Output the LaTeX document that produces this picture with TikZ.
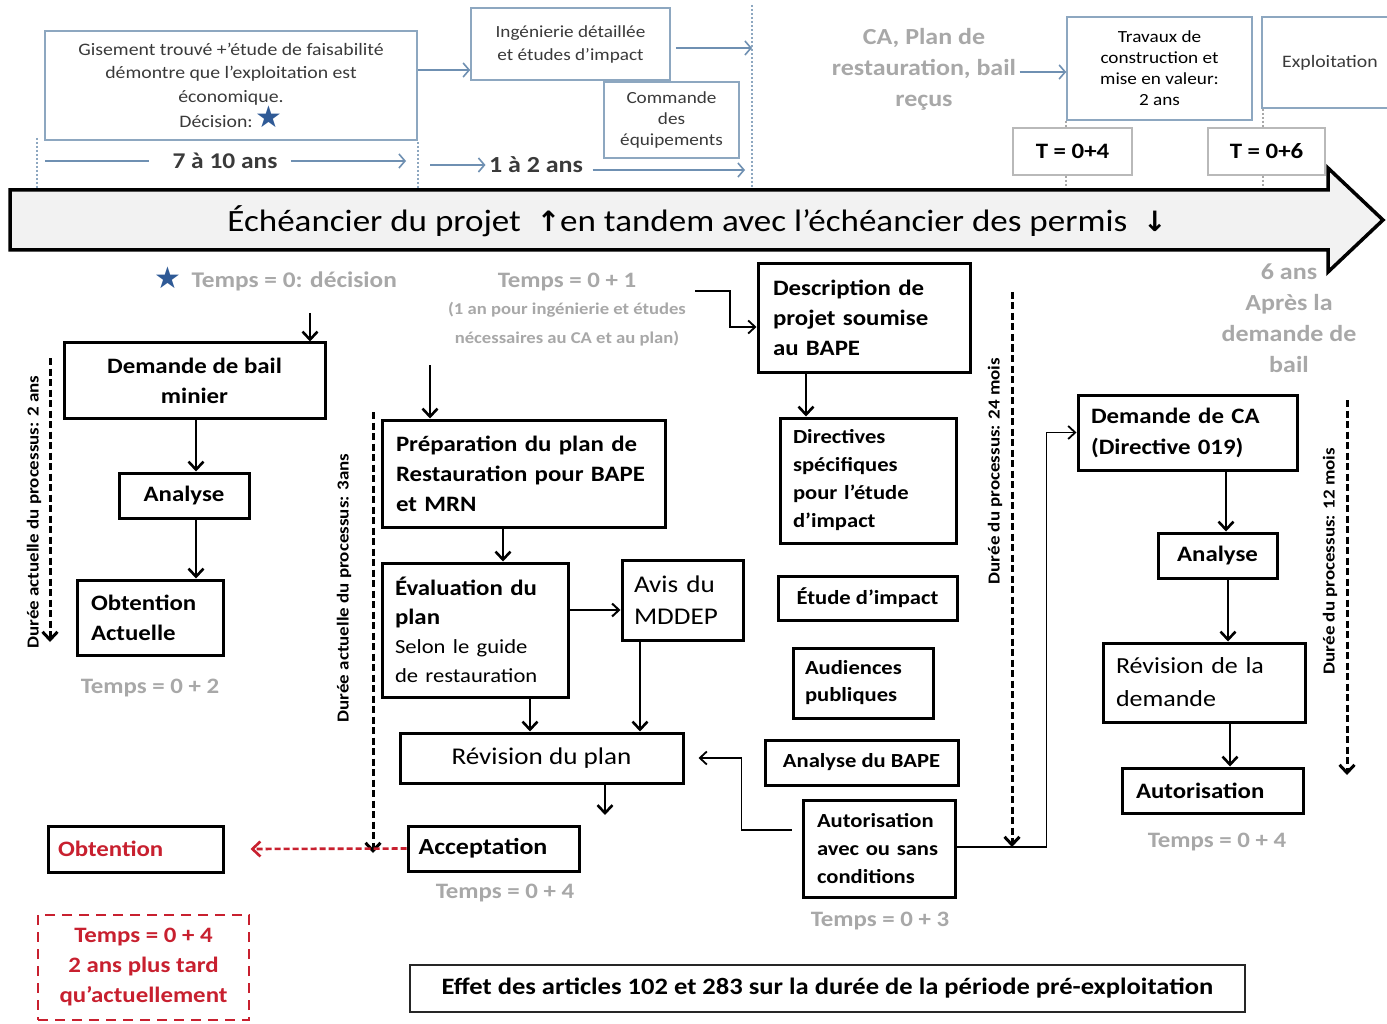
\documentclass[tikz,border=0pt]{standalone}
\usepackage{fontspec}
\setmainfont{Carlito}[FakeStretch=1.13]
\newfontfamily\dejavu{DejaVu Sans}
\usetikzlibrary{arrows.meta,calc}
\definecolor{gtext}{HTML}{A8A8A8}
\definecolor{bluegray}{HTML}{8DA7C0}
\definecolor{arrblue}{HTML}{6F90B2}
\definecolor{starblue}{HTML}{2F5A96}
\definecolor{dred}{HTML}{C8202F}
\definecolor{dtext}{HTML}{3A3A3A}
\definecolor{barfill}{HTML}{F2F2F2}
\newcommand\fs[2]{\fontsize{#1}{#2}\selectfont}
\tikzset{
  bx/.style={draw, line width=3pt, inner sep=0pt, align=center, font=\fs{22}{30}\bfseries},
  lbx/.style={bx, align=left},
  topbox/.style={draw=bluegray, line width=1.6pt, inner sep=0pt, align=center, text=dtext},
  tbox/.style={draw=gtext!80, line width=1.3pt, inner sep=0pt, font=\fs{22}{24}\bfseries},
  glab/.style={text=gtext, align=center, font=\fs{22}{30}\bfseries},
  gblab/.style={text=gtext, align=center, font=\fs{23}{31}\bfseries},
  rotlab/.style={rotate=90, font=\fs{16.8}{18}\bfseries},
  arr/.style={line width=2.6pt, -{Straight Barb[length=8pt,width=15pt]}},
  tharr/.style={line width=1.8pt, -{Straight Barb[length=7pt,width=13pt]}},
  darr/.style={line width=3pt, dash pattern=on 7pt off 3.5pt, -{Straight Barb[length=8pt,width=15pt]}},
  tarr/.style={draw=arrblue, line width=1.6pt, -{Straight Barb[length=6pt,width=14pt]}},
  tline/.style={draw=arrblue, line width=1.6pt},
  dots/.style={draw=bluegray, line width=1.5pt, dash pattern=on 2pt off 2pt}
}
\begin{document}
\begin{tikzpicture}[x=1pt,y=-1pt]
\useasboundingbox[fill=white] (0,0) rectangle (1387,1024);

% ---------- top part ----------
\node[topbox, minimum width=372pt, minimum height=109pt, font=\fs{17.5}{23.5}] (gis) at (231,85.5)
  {Gisement trouvé +’étude de faisabilité\\démontre que l’exploitation est\\économique.\\Décision:\,{\dejavu\fs{30}{20}\color{starblue}★}};
\node[topbox, minimum width=199pt, minimum height=72pt, font=\fs{17}{23}] (ing) at (570.5,44)
  {Ingénierie détaillée\\et études d’impact};
\node[topbox, fill=white, minimum width=135pt, minimum height=76pt, font=\fs{17}{21}] (cmd) at (671.5,120)
  {Commande\\des\\équipements};

\coordinate (d1a) at (37,138);  \coordinate (d1b) at (37,188);
\coordinate (d2a) at (418,142); \coordinate (d2b) at (418,188);
\coordinate (d3a) at (752,5);   \coordinate (d3b) at (752,188);
\draw[dots] (d1a) -- (d1b);
\draw[dots] (d2a) -- (d2b);
\draw[dots] (d3a) -- (d3b);

\coordinate (ga) at ([yshift=15.5pt]gis.east);
\draw[tarr] (ga) -- (ga -| ing.west);
\coordinate (ia) at ([xshift=5pt,yshift=-4pt]ing.east);
\draw[tarr] (ia) -- (ia -| d3a);

\node[font=\fs{22.5}{24}\bfseries, text=dtext] (t710) at (225,161) {7 à 10 ans};
\coordinate (t1a) at (45,161); \coordinate (t1b) at (406,161);
\draw[tline] (t1a) -- ([xshift=-20pt]t710.west);
\draw[tarr] ([xshift=10pt]t710.east) -- (t1b);

\node[font=\fs{23}{24}\bfseries, text=dtext] (t12) at (536,165) {1 à 2 ans};
\coordinate (t2a) at (430,165); \coordinate (t2b) at (745,170);
\draw[tarr] (t2a) -- (t12.west);
\draw[tarr] ([xshift=6pt,yshift=-5pt]t12.east) -- (t2b);

\node[gblab] (ca) at (924,69) {CA, Plan de\\restauration, bail\\reçus};
\node[topbox, minimum width=185pt, minimum height=103pt, font=\fs{17}{21}, text=black] (trav) at (1159.5,68.5)
  {Travaux de\\construction et\\mise en valeur:\\2 ans};
\node[topbox, minimum width=136pt, minimum height=91pt, font=\fs{17.5}{21}, text=dtext] (expl) at (1330,62.5) {Exploitation};
\coordinate (ca1) at ([yshift=-3pt]ca.east);
\draw[tarr] (ca1) -- (ca1 -| trav.west);

\node[tbox, minimum width=119pt, minimum height=47pt] (T4) at (1072.5,151.5) {T = 0+4};
\node[tbox, minimum width=117pt, minimum height=47pt] (T6) at (1266.5,151.5) {T = 0+6};
\coordinate (tv4) at (1066,190); \coordinate (tv6) at (1263,190);
\draw[dots, draw=gtext] (trav.south west -| tv4) -- (T4.north -| tv4);
\draw[dots, draw=gtext] (T4.south -| tv4) -- (tv4);
\draw[dots, draw=gtext] (expl.south -| tv6) -- (T6.north -| tv6);
\draw[dots, draw=gtext] (T6.south -| tv6) -- (tv6);

% ---------- big timeline arrow ----------
\draw[line width=3.5pt, fill=barfill, line join=miter]
  (10,190) -- (1328,190) -- (1328,168) -- (1383,220) -- (1328,272) -- (1328,250) -- (10,250) -- cycle;
\node[font=\fs{31}{36}] (bar) at (697,221)
  {Échéancier du projet\ \ {\dejavu\bfseries\fs{28}{30}↑}en tandem avec l’échéancier des permis\ \ {\dejavu\bfseries\fs{28}{30}↓}};

% ---------- labels under the bar ----------
\node[text=starblue, font=\dejavu\fs{30}{30}] (star2) at (168,278) {★};
\node[gblab, font=\fs{22.4}{30}\bfseries, anchor=west] (t0) at (188,281) {Temps = 0: décision};
\node[glab] (t01) at (567,282) {Temps = 0 + 1};
\node[text=gtext, align=center, font=\fs{16.5}{29}\bfseries] (t01b) at (567,324)
  {(1 an pour ingénierie et études\\nécessaires au CA et au plan)};
\node[gblab] (six) at (1289,318.5) {6 ans\\Après la\\demande de\\bail};

% ---------- left column: bail minier ----------
\node[bx, minimum width=261pt, minimum height=75pt] (dbail) at (194.5,380.5) {Demande de bail\\minier};
\node[bx, minimum width=130pt, minimum height=45pt] (anl1) at (184,495.5) {Analyse};
\node[lbx, text width=118pt, minimum width=146pt, minimum height=75pt] (obt) at (150,617.5) {Obtention\\Actuelle};
\node[glab] (t02) at (150,688) {Temps = 0 + 2};
\coordinate (s1) at (310,313);
\draw[arr] (s1) -- (s1 |- dbail.north);
\draw[arr] ([xshift=1.5pt]dbail.south) -- ([xshift=1.5pt]dbail.south |- anl1.north);
\draw[arr] ([xshift=12pt]anl1.south) -- ([xshift=12pt]anl1.south |- obt.north);
\coordinate (da1) at (50,358); \coordinate (da2) at (50,642);
\draw[darr] (da1) -- (da2);
\node[rotlab] (lab1) at (34,512) {Durée actuelle du processus: 2 ans};

% ---------- plan de restauration ----------
\node[lbx, text width=255pt, minimum width=283pt, minimum height=107pt] (prep) at (523.5,473.5)
  {Préparation du plan de\\Restauration pour BAPE\\et MRN};
\node[lbx, text width=160pt, minimum width=186pt, minimum height=134pt, font=\fs{22}{29}] (eval) at (475,630)
  {\textbf{Évaluation du}\\\textbf{plan}\\\fs{20}{29}Selon le guide\\\fs{20}{29}de restauration};
\node[lbx, text width=97pt, minimum width=121pt, minimum height=80pt, font=\fs{24}{32}] (avis) at (682.5,600) {Avis du\\MDDEP};
\node[bx, minimum width=283pt, minimum height=50pt, font=\fs{24}{30}] (rev) at (541.5,758) {Révision du plan};
\node[lbx, text width=150pt, minimum width=171pt, minimum height=45pt, font=\fs{23}{30}\bfseries] (acc) at (493.5,848.5) {Acceptation};
\node[glab] (t04a) at (505,893) {Temps = 0 + 4};
\coordinate (s2) at (430,365);
\draw[arr] (s2) -- (s2 |- prep.north);
\draw[arr] ([xshift=-20.5pt]prep.south) -- ([xshift=-20.5pt]prep.south |- eval.north);
\coordinate (aw) at ([yshift=-10pt]avis.west);
\draw[tharr, line width=2pt] (eval.east |- aw) -- (aw);
\draw[arr] ([xshift=-42.5pt]avis.south) -- ([xshift=-42.5pt]avis.south |- rev.north);
\draw[arr] ([xshift=55pt]eval.south) -- ([xshift=55pt]eval.south |- rev.north);
\coordinate (rv) at (605,815);
\draw[arr] ([xshift=63.5pt]rev.south) -- (rv);
\coordinate (db1) at (373,412); \coordinate (db2) at (373,853);
\draw[darr] (db1) -- (db2);
\node[rotlab] (lab2) at (344,588) {Durée actuelle du processus: 3ans};

% ---------- obtention (red) ----------
\node[lbx, text width=155pt, minimum width=175pt, minimum height=46pt, text=dred] (obtR) at (135.5,849) {Obtention};
\draw[darr, draw=dred, line width=2.6pt, dash pattern=on 6pt off 3pt] (acc.west) -- ([xshift=26pt]obtR.east);
\node[draw=dred, line width=2.6pt, dash pattern=on 10pt off 7pt, inner sep=0pt, align=center,
  minimum width=211pt, minimum height=105pt, text=dred, font=\fs{22}{30}\bfseries] (redbox) at (143.5,967.5)
  {Temps = 0 + 4\\2 ans plus tard\\qu’actuellement};
\node[draw=black!85, line width=1.8pt, inner sep=0pt, minimum width=835pt, minimum height=47pt, font=\fs{23.5}{26}\bfseries] (effet) at (827.5,988.5)
  {Effet des articles 102 et 283 sur la durée de la période pré-exploitation};

% ---------- BAPE column ----------
\node[lbx, text width=182pt, minimum width=212pt, minimum height=108pt] (desc) at (864,318)
  {Description de\\projet soumise\\au BAPE};
\node[lbx, text width=150pt, minimum width=176pt, minimum height=125pt, font=\fs{20}{28}\bfseries] (dir) at (868,480.5)
  {Directives\\spécifiques\\pour l’étude\\d’impact};
\node[bx, minimum width=179pt, minimum height=44pt, font=\fs{20}{26}\bfseries] (etude) at (867.5,598) {Étude d’impact};
\node[lbx, text width=116pt, minimum width=140pt, minimum height=70pt, font=\fs{20}{27}\bfseries] (aud) at (863,683) {Audiences\\publiques};
\node[bx, minimum width=193pt, minimum height=45pt, font=\fs{20}{26}\bfseries] (abape) at (861.5,762.5) {Analyse du BAPE};
\node[lbx, text width=124pt, minimum width=152pt, minimum height=97pt, font=\fs{20}{28}\bfseries] (autB) at (879,848.5)
  {Autorisation\\avec ou sans\\conditions};
\node[glab] (t03) at (880,921) {Temps = 0 + 3};
\coordinate (tp1) at (695,291);
\draw[tharr] (tp1) -- (730,291) |- ([yshift=-9pt]desc.west);
\draw[arr] ([xshift=-58pt]desc.south) -- ([xshift=-58pt]desc.south |- dir.north);
\coordinate (ab1) at ([xshift=-10pt,yshift=18.5pt]autB.west);
\draw[tharr] (ab1) -- ++(-50,0) |- ([xshift=14pt]rev.east);
\coordinate (dc1) at (1012,292); \coordinate (dc2) at (1012,847);
\draw[darr] (dc1) -- (dc2);
\node[rotlab] (lab3) at (995,471) {Durée du processus: 24 mois};

% ---------- CA column ----------
\node[lbx, text width=193pt, minimum width=219pt, minimum height=75pt, font=\fs{22}{31}\bfseries] (dca) at (1187.5,432.5)
  {Demande de CA\\(Directive 019)};
\node[bx, minimum width=119pt, minimum height=45pt] (anl2) at (1217.5,555.5) {Analyse};
\node[lbx, text width=176pt, minimum width=202pt, minimum height=79pt, font=\fs{23}{33}] (revd) at (1204,682.5)
  {Révision de la\\demande};
\node[lbx, text width=153pt, minimum width=181pt, minimum height=45pt] (aut2) at (1212.5,790.5) {Autorisation};
\node[glab] (t04b) at (1217,842) {Temps = 0 + 4};
\draw[tharr] ([yshift=1.5pt]autB.east) -- ++(90,0) |- (dca.west);
\draw[arr] ([xshift=38.5pt]dca.south) -- ([xshift=38.5pt]dca.south |- anl2.north);
\draw[arr] ([xshift=10.5pt]anl2.south) -- ([xshift=10.5pt]anl2.south |- revd.north);
\draw[arr] ([xshift=26pt]revd.south) -- ([xshift=26pt]revd.south |- aut2.north);
\coordinate (de1) at (1347,400); \coordinate (de2) at (1347,775);
\draw[darr] (de1) -- (de2);
\node[rotlab] (lab4) at (1330,561) {Durée du processus: 12 mois};
\end{tikzpicture}
\end{document}
